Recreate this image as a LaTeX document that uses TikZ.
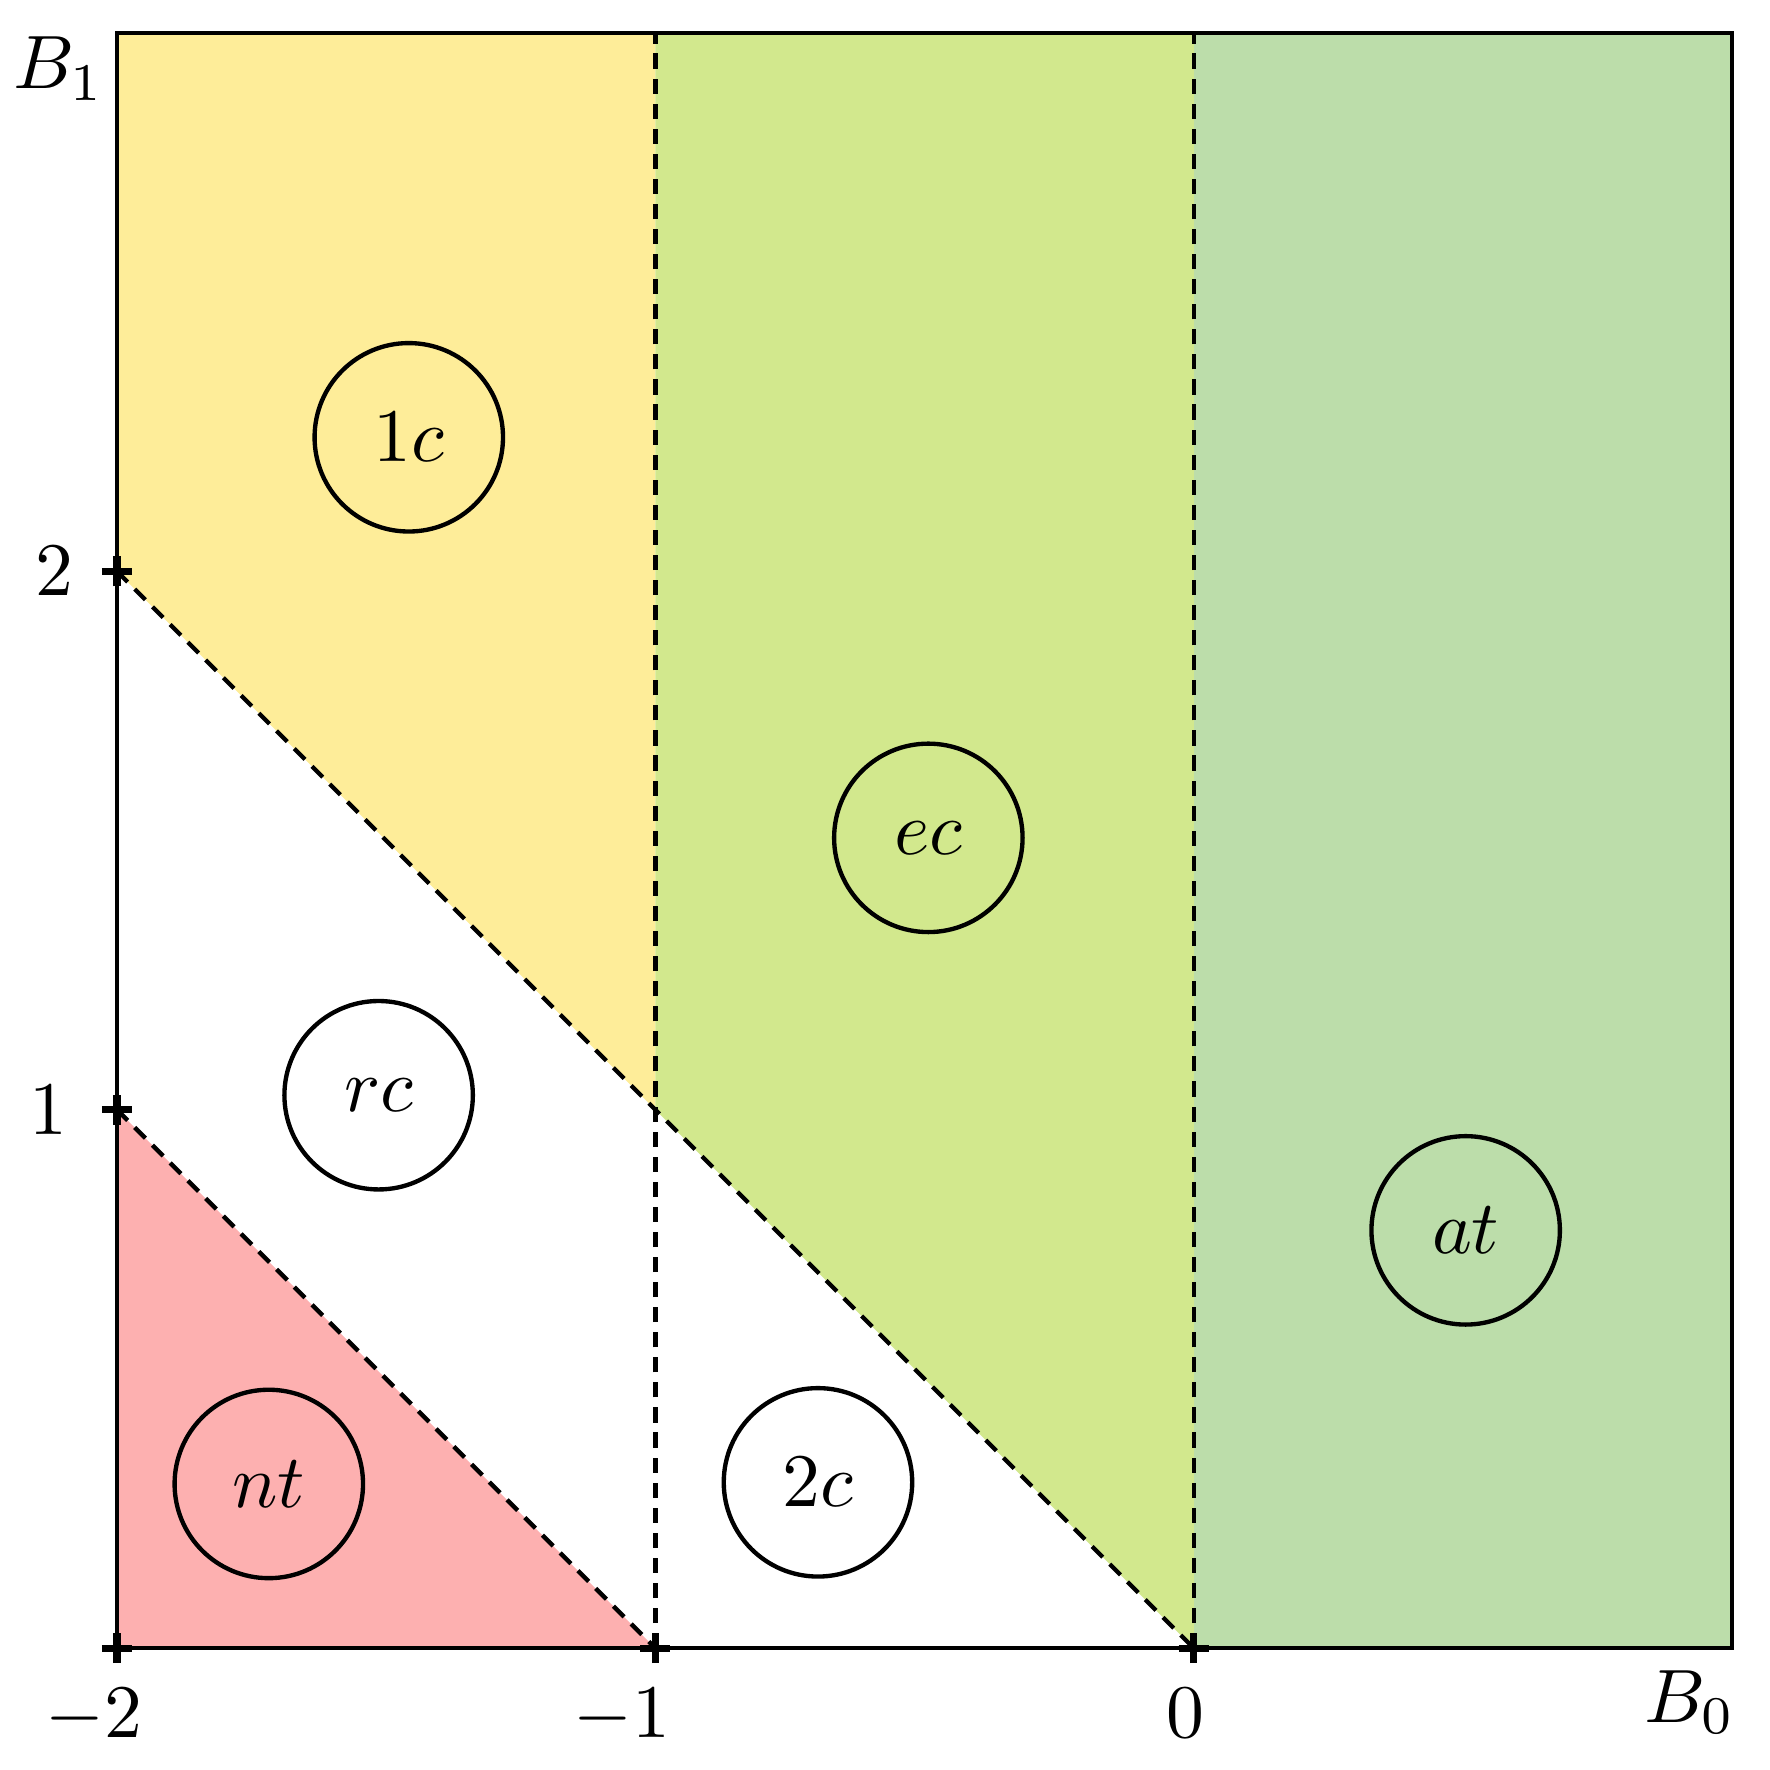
\documentclass[tikz,border=0pt]{standalone}
\definecolor{ycol}{RGB}{254,237,153}
\definecolor{pcol}{RGB}{253,176,176}
\definecolor{ecol}{RGB}{210,232,141}
\definecolor{gcol}{RGB}{188,221,170}
\newcommand{\bigtxt}[1]{\scalebox{1.6}{#1}}
\begin{document}
\begin{tikzpicture}[x=4cm,y=4cm,
  every node/.style={font=\normalsize, inner sep=0pt},
  region/.style={draw, circle, line width=0.92pt, minimum size=0.35*4cm},
  bound/.style={dash pattern=on 3.2pt off 2.1pt, line width=0.92pt},
  frame/.style={line width=0.88pt},
  tick/.style={line width=1.5pt}]
\useasboundingbox (-2.2173,-0.2262) rectangle (1.0702,3.0613);
% fills
\fill[pcol] (-2,0) -- (-1,0) -- (-2,1) -- cycle;
\fill[ycol] (-2,2) -- (-1,1) -- (-1,3) -- (-2,3) -- cycle;
\fill[ecol] (-1,1) -- (0,0) -- (0,3) -- (-1,3) -- cycle;
\fill[gcol] (0,0) rectangle (1,3);
% boundaries
\draw[bound] (-2,1) -- (-1,0);
\draw[bound] (-2,2) -- (0,0);
\draw[bound] (-1,0) -- (-1,3);
\draw[bound] (0,0) -- (0,3);
% frame
\draw[frame] (-2,0) rectangle (1,3);
% ticks
\foreach \x in {-2,-1,0} {
  \draw[tick] (\x,-0.028) -- (\x,0.028);
  \draw[tick] (\x-0.028,0) -- (\x+0.028,0);
}
\foreach \y in {1,2} {
  \draw[tick] (-2.028,\y) -- (-1.972,\y);
  \draw[tick] (-2,\y-0.028) -- (-2,\y+0.028);
}
% tick labels
\node[anchor=north] (xm2) at (-1.9876,-0.0743) {\bigtxt{\llap{$-$}$2$}};
\node[anchor=north] (xm1) at (-1.0074,-0.0743) {\bigtxt{\llap{$-$}$1$}};
\node[anchor=north] (x0) at (-0.0149,-0.0743) {\bigtxt{$0$}};
\node[anchor=east] (y1) at (-2.0904,1) {\bigtxt{$1$}};
\node[anchor=east] (y2) at (-2.079,2) {\bigtxt{$2$}};
\node[anchor=base east] (b0) at (1.0085,-0.138) {\bigtxt{$B_0$}};
\node[anchor=base east] (b1) at (-2.021,2.896) {\bigtxt{$B_1$}};
% regions
\node[region] (c1) at (-1.458,2.249) {\bigtxt{$1c$}};
\node[region] (cec) at (-0.493,1.505) {\bigtxt{$ec$}};
\node[region] (crc) at (-1.514,1.027) {\bigtxt{$rc$}};
\node[region] (cat) at (0.505,0.776) {\bigtxt{$at$}};
\node[region] (cnt) at (-1.718,0.305) {\bigtxt{$nt$}};
\node[region] (c2) at (-0.698,0.308) {\bigtxt{$2c$}};
\end{tikzpicture}
\end{document}
